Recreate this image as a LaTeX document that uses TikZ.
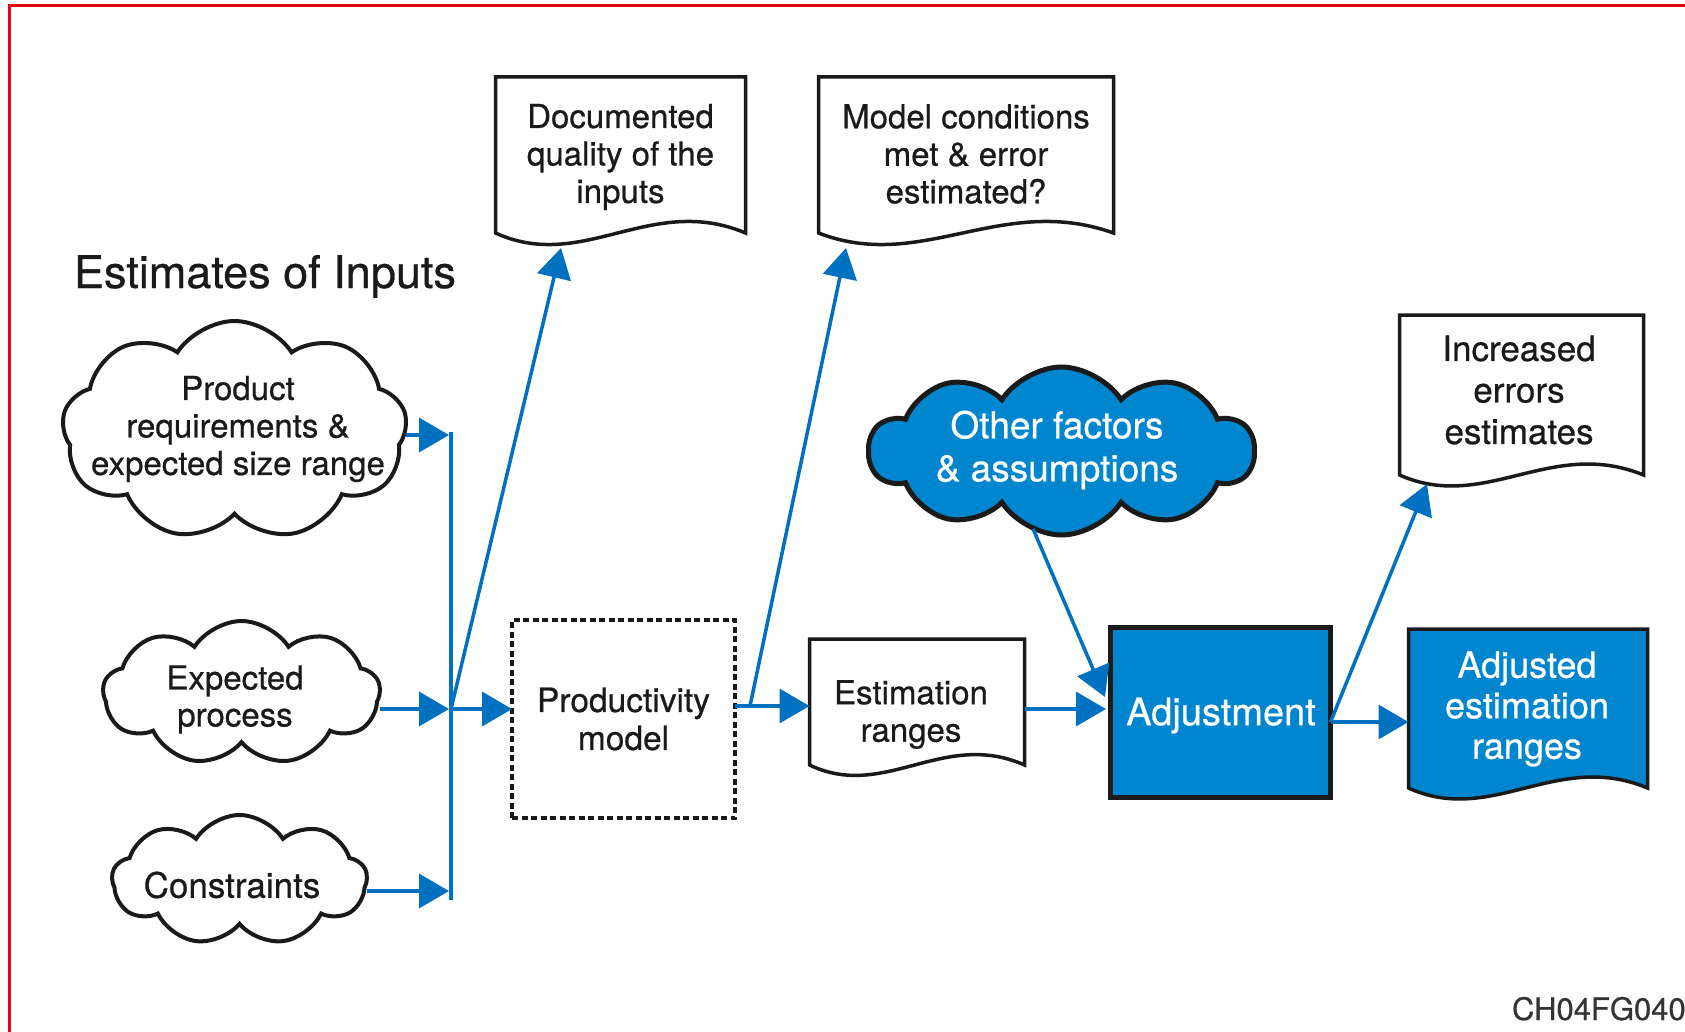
\documentclass[tikz,border=0pt]{standalone}
\usepackage{fontspec}
\setmainfont{TeX Gyre Heros}[FakeBold=0.6]
\usetikzlibrary{arrows.meta,shapes.symbols,calc}
\definecolor{ink}{HTML}{1A1A1A}
\definecolor{arrowblue}{HTML}{0070C0}
\definecolor{fillblue}{HTML}{0086CE}
\definecolor{redline}{HTML}{E30613}
\definecolor{codegray}{HTML}{333333}
\newcommand\docoutline[3]{%
  \draw[line width=3.5, draw=ink, fill=#2, line join=miter]
    (#1.north west) -- (#1.south west)
    .. controls ($(#1.south west)!0.35!(#1.south east)+(0,#3)$)
           and ($(#1.south west)!0.62!(#1.south east)+(0,-#3)$) ..
    (#1.south east) -- (#1.north east) -- cycle;}
\begin{document}
\begin{tikzpicture}[x=1pt,y=-1pt,
  every node/.style={inner sep=0pt, outer sep=0pt},
  txt/.style={align=center, text=ink, font=\fontsize{33}{37.5}\selectfont},
  wtxt/.style={align=center, text=white},
  cloudshape/.style={cloud, cloud puffs=10, cloud puff arc=115, cloud ignores aspect,
    draw=ink, line width=4, fill=white},
  arr/.style={draw=arrowblue, line width=3.5, -{Triangle[length=30pt,width=34pt]}},
  busline/.style={draw=arrowblue, line width=3.5}
]
\useasboundingbox (0,0) rectangle (1685,1032);
\fill[white] (0,0) rectangle (1685,1032);
\draw[redline, line width=3] (9.5,1032) -- (9.5,5.5) -- (1685,5.5);

% title
\node[anchor=base west, text=ink, font=\fontsize{45}{52}\selectfont] (title) at (74,288) {Estimates of Inputs};

% input clouds
\node[cloudshape, cloud puffs=9, minimum width=345, minimum height=219] (cloud1) at (234.5,430.5) {};
\node[txt] (cloud1t) at (238,429) {Product\\requirements \&\\expected size range};
\node[cloudshape, cloud puffs=9, minimum width=277, minimum height=144] (cloud2) at (241.5,693) {};
\node[txt, font=\fontsize{33}{37}\selectfont] (cloud2t) at (235,699.5) {Expected\\process};
\node[cloudshape, cloud puffs=9, minimum width=255, minimum height=130] (cloud3) at (239.5,880) {};
\node[txt, font=\fontsize{35}{38}\selectfont] (cloud3t) at (232,885) {Constraints};

% other factors cloud
\node[cloudshape, fill=fillblue, line width=5, minimum width=385, minimum height=168] (oth) at (1061.5,451) {};
\node[wtxt, font=\fontsize{37}{43}\selectfont] (otht) at (1057,450) {Other factors\\\& assumptions};

% productivity model
\node[draw=ink, line width=3.5, dash pattern=on 6pt off 3.5pt, minimum width=223, minimum height=198,
  txt, font=\fontsize{33.5}{38}\selectfont] (prod) at (623.5,719) {Productivity\\model};

% adjustment
\node[fill=fillblue, draw=ink, line width=5, minimum width=220, minimum height=170] (adj) at (1220.5,712.5) {};
\node[wtxt, font=\fontsize{38}{44}\selectfont] (adjt) at (1221,715.5) {Adjustment};

% documents
\node[minimum width=250, minimum height=156] (doc1) at (620.5,155) {};
\docoutline{doc1}{white}{40}
\node[txt] (doc1t) at (620.5,157) {Documented\\quality of the\\inputs};

\node[minimum width=295, minimum height=156] (doc2) at (966,155) {};
\docoutline{doc2}{white}{40}
\node[txt] (doc2t) at (966,154) {Model conditions\\met \& error\\estimated?};

\node[minimum width=244, minimum height=160] (doc3) at (1521.5,395) {};
\docoutline{doc3}{white}{38}
\node[txt, font=\fontsize{35}{41.5}\selectfont] (doc3t) at (1519,390) {Increased\\errors\\estimates};

\node[minimum width=215, minimum height=126] (est) at (917,702) {};
\docoutline{est}{white}{36}
\node[txt, font=\fontsize{33}{37.5}\selectfont] (estt) at (911,714.5) {Estimation\\ranges};

\node[minimum width=239, minimum height=159] (adjd) at (1528,708.5) {};
\docoutline{adjd}{fillblue}{38}
\node[wtxt, font=\fontsize{36}{40.5}\selectfont] (adjdt) at (1527,709) {Adjusted\\estimation\\ranges};

% code
\node[anchor=base west, text=codegray, font=\fontsize{31}{36}\selectfont] (code) at (1512,1020) {CH04FG040};

% connector coordinates
\coordinate (busTop) at (451,432);
\coordinate (busBot) at (451,900);
\coordinate (busA) at (451,435);
\coordinate (busB) at (451,709);
\coordinate (busC) at (451,891);
\coordinate (pm) at (750,706);
\coordinate (doc1tip) at (561,248);
\coordinate (doc2tip) at (846,248);
\coordinate (adjin) at (1106,709);
\coordinate (adjtip) at (1105,697);
\coordinate (adjrow) at (1337,722);
\coordinate (doc3tip) at (1427,484);

% connectors
\draw[busline] (busTop) -- (busBot);
\draw[arr, shorten >=2pt] (cloud1.east |- busA) -- (busA);
\draw[arr, shorten >=2pt] (cloud2.east |- busB) -- (busB);
\draw[arr, shorten >=2pt] (cloud3.east |- busC) -- (busC);
\draw[arr] (busB) -- (busB -| prod.west);
\draw[arr] (busB) -- (doc1tip);
\draw[busline] (pm -| prod.east) -- (pm);
\draw[arr] (pm) -- (pm -| est.west);
\draw[arr] (pm) -- (doc2tip);
\draw[arr] (adjin -| est.east) -- (adjin);
\draw[arr] (oth.250) -- (adjtip);
\draw[arr] (adj.east |- adjrow) -- (adjrow -| adjd.west);
\draw[arr] (adj.east |- adjrow) -- (doc3tip);
\end{tikzpicture}
\end{document}
